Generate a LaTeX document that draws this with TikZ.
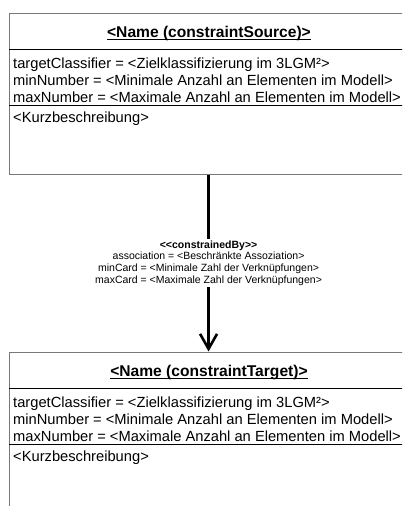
\documentclass[tikz,border=0pt]{standalone}
\usepackage{fontspec}
\setmainfont{Liberation Sans}
\usetikzlibrary{arrows.meta}
\definecolor{boxgray}{RGB}{120,120,120}
\begin{document}
\begin{tikzpicture}[x=1pt,y=-1pt,
  classbox/.style={draw=boxgray, line width=1.1pt, rectangle, anchor=north west,
    minimum width=398pt, minimum height=161pt, inner sep=0pt},
  compline/.style={line width=0.9pt, black},
  attr/.style={anchor=base west, inner sep=0pt, font=\fontsize{14.7}{17}\selectfont},
  classtitle/.style={anchor=base, inner sep=0pt, font=\fontsize{15.6}{18}\selectfont\bfseries},
  titleline/.style={line width=1.3pt, black},
  assoc/.style={fill=white, inner sep=1pt, align=center,
    font=\fontsize{10.5}{11.8}\selectfont},
  link/.style={line width=3pt, -{Straight Barb[length=15pt,width=17pt,line width=2.6pt]}}
]
\useasboundingbox (0,0) rectangle (402,506);
\clip (0,0) rectangle (402,506);

% source class
\node[classbox] (src) at (9,12.5) {};
\node[classtitle] (srcname) at (209,37) {<Name (constraintSource)>};
\draw[titleline] ([yshift=-2.5pt]srcname.base west) -- ([yshift=-2.5pt]srcname.base east);
\draw[compline] (9,49) -- (407,49);
\node[attr] (srca) at (13,68) {targetClassifier = <Zielklassifizierung im 3LGM²>};
\node[attr] (srcb) at (13,85.5) {minNumber = <Minimale Anzahl an Elementen im Modell>};
\node[attr] (srcc) at (13,102.5) {maxNumber = <Maximale Anzahl an Elementen im Modell>};
\draw[compline] (9,105.5) -- (407,105.5);
\node[attr] (srcd) at (13,122) {<Kurzbeschreibung>};

% target class
\node[classbox] (tgt) at (9,351.5) {};
\node[classtitle] (tgtname) at (209,376) {<Name (constraintTarget)>};
\draw[titleline] ([yshift=-2.5pt]tgtname.base west) -- ([yshift=-2.5pt]tgtname.base east);
\draw[compline] (9,388) -- (407,388);
\node[attr] (tgta) at (13,407) {targetClassifier = <Zielklassifizierung im 3LGM²>};
\node[attr] (tgtb) at (13,424.5) {minNumber = <Minimale Anzahl an Elementen im Modell>};
\node[attr] (tgtc) at (13,441.5) {maxNumber = <Maximale Anzahl an Elementen im Modell>};
\draw[compline] (9,444.5) -- (407,444.5);
\node[attr] (tgtd) at (13,461) {<Kurzbeschreibung>};

% association
\draw[link] (src.south) -- node[assoc] (cons) {\textbf{{<}{<}constrainedBy{>}{>}}\\
  association = <Beschränkte Assoziation>\\
  minCard = <Minimale Zahl der Verknüpfungen>\\
  maxCard = <Maximale Zahl der Verknüpfungen>} (tgt.north);
\end{tikzpicture}
\end{document}
